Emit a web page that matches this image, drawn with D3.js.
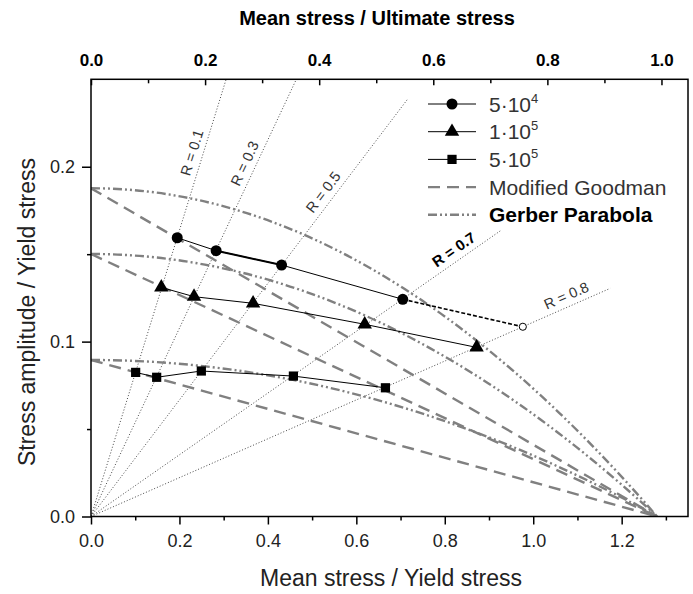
<!DOCTYPE html>
<html>
<head>
<meta charset="utf-8">
<script src="https://cdn.jsdelivr.net/npm/d3@7"></script>
<style>
  body { margin: 0; background: #fff; }
  text { font-family: "Liberation Sans", Arial, sans-serif; }
</style>
</head>
<body>
<div id="chart"></div>
<script>
// values (x = mean/yield, y = amplitude/yield)
var cyc5e4X = [0.195, 0.283, 0.431, 0.705];
var cyc5e4Y = [0.1594, 0.152, 0.1438, 0.1242];
var cyc5e4ExtraX = [0.705, 0.9765];   // dashed extension to the open circle
var cyc5e4ExtraY = [0.1242, 0.1085];
var cyc1e5X = [0.159, 0.233, 0.3665, 0.619, 0.872];
var cyc1e5Y = [0.131, 0.1257, 0.1219, 0.1099, 0.0967];
var cyc5e5X = [0.101, 0.1485, 0.2495, 0.4577, 0.6658];
var cyc5e5Y = [0.0824, 0.0796, 0.0832, 0.0803, 0.0736];

// fatigue limits (amplitude at zero mean) and ultimate/yield ratio
var limitAmps = [0.1877, 0.1501, 0.0895];
var ultimateRatio = 1.28;

// R lines: stress ratio and where each dotted line stops (x)
var rValues = [0.1, 0.3, 0.5, 0.7, 0.8];
var rEndX = [0.40, 0.60, 0.716, 0.929, 1.174];
var rLabelX = [0.252, 0.37, 0.545, 0.835, 1.085];

var bottomTicks = [0, 0.2, 0.4, 0.6, 0.8, 1.0, 1.2];
var topTicks = [0, 0.2, 0.4, 0.6, 0.8, 1.0];
var leftTicks = [0, 0.1, 0.2];
var legendLabels = ["5\u00b710", "1\u00b710", "5\u00b710", "Modified Goodman", "Gerber Parabola"];
var legendExps = ["4", "5", "5", "", ""];

var W = 693, H = 594;
var margin = {top: 79.3, right: 5, bottom: 77.5, left: 91};
var width = 688 - margin.left,
    height = 516.5 - margin.top;

var svg = d3.select("#chart").append("svg")
    .attr("width", W).attr("height", H);

svg.append("defs").append("clipPath").attr("id", "plotclip")
  .append("rect").attr("width", width).attr("height", height);

var g = svg.append("g")
    .attr("transform", "translate(" + margin.left + "," + margin.top + ")");

var x = d3.scaleLinear().domain([0, 1.35]).range([0, width]);
var xTop = d3.scaleLinear().domain([0, 1.35 / 1.29]).range([0, width]);
var y = d3.scaleLinear().domain([0, 0.25]).range([height, 0]);

var plot = g.append("g").attr("clip-path", "url(#plotclip)");

// dotted R lines from origin
rValues.forEach(function(r, i) {
  var k = (1 - r) / (1 + r);
  plot.append("line")
    .attr("x1", x(0)).attr("y1", y(0))
    .attr("x2", x(rEndX[i])).attr("y2", y(rEndX[i] * k))
    .attr("stroke", "#333").attr("stroke-width", 0.9)
    .attr("stroke-dasharray", "1,2");
});

// Modified Goodman straight lines
limitAmps.forEach(function(a) {
  plot.append("line")
    .attr("x1", x(0)).attr("y1", y(a))
    .attr("x2", x(ultimateRatio)).attr("y2", y(0))
    .attr("stroke", "#808080").attr("stroke-width", 2.4)
    .attr("stroke-dasharray", "12,7");
});

// Gerber parabolas as exact quadratic curves
limitAmps.forEach(function(a) {
  var p = d3.path();
  p.moveTo(x(0), y(a));
  p.quadraticCurveTo(x(ultimateRatio / 2), y(a), x(ultimateRatio), y(0));
  plot.append("path")
    .attr("d", p.toString())
    .attr("fill", "none")
    .attr("stroke", "#808080").attr("stroke-width", 2.4)
    .attr("stroke-dasharray", "9,3,2,3,2,3");
});

// R labels along the lines
var pxSlope = (y(0) - y(1)) / (x(1) - x(0));
rValues.forEach(function(r, i) {
  var k = (1 - r) / (1 + r);
  var ang = Math.atan(k * pxSlope) * 180 / Math.PI;
  var lx = x(rLabelX[i]), ly = y(rLabelX[i] * k);
  g.append("text")
    .attr("transform", "translate(" + lx + "," + ly + ") rotate(" + (-ang) + ") translate(0,-6)")
    .attr("text-anchor", "middle")
    .attr("font-size", r == 0.7 ? 15 : 14.5)
    .attr("font-weight", r == 0.7 ? "bold" : "normal")
    .attr("fill", r == 0.7 ? "#000" : "#333")
    .text("R = " + r);
});

function zip(xs, ys) { return xs.map(function(v, i) { return [v, ys[i]]; }); }
var line = d3.line().x(function(d) { return x(d[0]); }).y(function(d) { return y(d[1]); });

var s1 = zip(cyc5e4X, cyc5e4Y), s2 = zip(cyc1e5X, cyc1e5Y), s3 = zip(cyc5e5X, cyc5e5Y);

[s1, s2, s3].forEach(function(s) {
  g.append("path").datum(s).attr("d", line)
    .attr("fill", "none").attr("stroke", "#000").attr("stroke-width", 1);
});
// the middle segment of the 5e4 series is drawn heavier in the original
g.append("path").datum(s1.slice(1, 3)).attr("d", line)
  .attr("fill", "none").attr("stroke", "#000").attr("stroke-width", 2);

g.append("path").datum(zip(cyc5e4ExtraX, cyc5e4ExtraY)).attr("d", line)
  .attr("fill", "none").attr("stroke", "#000").attr("stroke-width", 1.6)
  .attr("stroke-dasharray", "4,2");

var sym = {
  circle: d3.symbol().type(d3.symbolCircle).size(95),
  tri: d3.symbol().type(d3.symbolTriangle).size(90),
  square: d3.symbol().type(d3.symbolSquare).size(85)
};

g.selectAll(".c1").data(s1).enter().append("path")
  .attr("d", sym.circle)
  .attr("transform", function(d) { return "translate(" + x(d[0]) + "," + y(d[1]) + ")"; });
g.append("path").attr("d", d3.symbol().type(d3.symbolCircle).size(40))
  .attr("transform", "translate(" + x(cyc5e4ExtraX[1]) + "," + y(cyc5e4ExtraY[1]) + ")")
  .attr("fill", "#fff").attr("stroke", "#000").attr("stroke-width", 1);
g.selectAll(".c2").data(s2).enter().append("path")
  .attr("d", sym.tri)
  .attr("transform", function(d) { return "translate(" + x(d[0]) + "," + y(d[1]) + ")"; });
g.selectAll(".c3").data(s3).enter().append("path")
  .attr("d", sym.square)
  .attr("transform", function(d) { return "translate(" + x(d[0]) + "," + y(d[1]) + ")"; });

// frame
g.append("rect").attr("width", width).attr("height", height)
  .attr("fill", "none").attr("stroke", "#000").attr("stroke-width", 1.5);

// axes
var xAxis = g.append("g").attr("transform", "translate(0," + height + ")")
  .call(d3.axisBottom(x).tickValues(bottomTicks).tickFormat(d3.format(".1f")).tickSize(8).tickPadding(10));
g.append("g").attr("transform", "translate(0," + height + ")")
  .call(d3.axisBottom(x).tickValues(d3.range(0.1, 1.35, 0.2)).tickFormat("").tickSize(4));
var yAxis = g.append("g")
  .call(d3.axisLeft(y).tickValues(leftTicks).tickFormat(d3.format(".1f")).tickSize(9).tickPadding(7));
g.append("g")
  .call(d3.axisLeft(y).tickValues([0.05, 0.15]).tickFormat("").tickSize(4));
var topAxis = g.append("g")
  .call(d3.axisTop(xTop).tickValues(topTicks).tickFormat(d3.format(".1f")).tickSize(-6).tickPadding(13));
g.append("g")
  .call(d3.axisTop(xTop).tickValues([0.1, 0.3, 0.5, 0.7, 0.9]).tickFormat("").tickSize(-4));

g.selectAll(".domain").remove();
g.selectAll(".tick line").attr("stroke", "#000").attr("stroke-width", 1.5);
xAxis.selectAll("text").attr("font-size", 18).attr("fill", "#222").attr("font-family", "Liberation Sans");
yAxis.selectAll("text").attr("font-size", 18).attr("fill", "#222").attr("font-family", "Liberation Sans");
topAxis.selectAll("text").attr("font-size", 17).attr("font-weight", "bold").attr("fill", "#000")
  .attr("font-family", "Liberation Sans Narrow, Liberation Sans");

// titles
svg.append("text").attr("x", 377).attr("y", 25).attr("text-anchor", "middle")
  .attr("font-size", 20).attr("font-weight", "bold")
  .attr("font-family", "Liberation Sans Narrow, Liberation Sans")
  .text("Mean stress / Ultimate stress");
svg.append("text").attr("x", 391).attr("y", 586).attr("text-anchor", "middle")
  .attr("font-size", 23).attr("fill", "#222")
  .text("Mean stress / Yield stress");
svg.append("text").attr("transform", "translate(35,312) rotate(-90)").attr("text-anchor", "middle")
  .attr("font-size", 23).attr("fill", "#222")
  .text("Stress amplitude / Yield stress");

// legend
var legend = svg.append("g").attr("transform", "translate(428,104)");
legendLabels.forEach(function(lab, i) {
  var row = legend.append("g").attr("transform", "translate(0," + (i * 27.7) + ")");
  var ln = row.append("line").attr("x1", 0).attr("x2", 48).attr("y1", 0).attr("y2", 0);
  if (i < 3) {
    ln.attr("stroke", "#000").attr("stroke-width", 1);
    var s = i == 0 ? sym.circle : (i == 1 ? sym.tri : sym.square);
    row.append("path").attr("d", s).attr("transform", "translate(24,0)");
  } else {
    ln.attr("stroke", "#808080").attr("stroke-width", 2.4)
      .attr("stroke-dasharray", i == 3 ? "12,7" : "9,3,2,3,2,3");
  }
  var t = row.append("text").attr("x", 61).attr("y", 7.5)
    .attr("font-size", 21)
    .attr("fill", i == 4 ? "#000" : "#333")
    .attr("font-weight", i == 4 ? "bold" : "normal")
    .text(lab);
  if (legendExps[i]) {
    t.append("tspan").attr("dy", -9).attr("font-size", 13).text(legendExps[i]);
  }
});
</script>
</body>
</html>
